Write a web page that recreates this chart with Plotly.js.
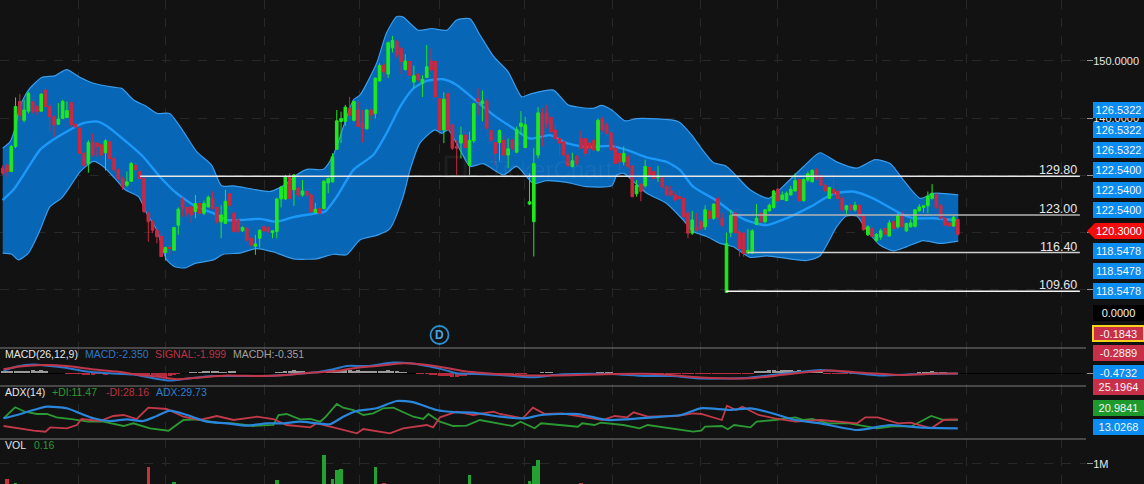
<!DOCTYPE html>
<html><head><meta charset="utf-8">
<script src="https://cdn.plot.ly/plotly-3.0.1.min.js"></script>
<style>html,body{margin:0;padding:0;background:#121212}#c{width:1144px;height:484px}</style>
</head><body><div id="c"></div>
<script>
const openPrices=[131.2,131.7,130.6,135.0,142.9,139.6,141.2,142.9,142.0,141.2,
144.9,142.0,140.2,138.9,139.9,140.1,142.7,138.9,138.2,133.8,
132.0,135.8,135.6,135.3,133.9,135.8,132.9,130.9,129.4,128.2,
128.9,131.7,130.6,129.4,123.3,121.8,120.3,119.2,116.4,117.3,
116.8,121.2,125.6,124.3,124.4,123.6,125.0,123.3,124.4,125.9,
124.3,121.8,121.5,126.7,123.3,122.1,120.2,120.6,118.9,117.5,
118.9,120.9,120.8,119.9,120.1,125.8,125.8,129.7,127.4,127.7,
126.5,127.1,126.5,123.4,124.1,124.1,128.6,128.8,134.5,139.4,
139.4,141.7,139.6,141.4,139.1,138.1,141.4,140.8,146.5,149.3,
147.7,152.3,153.4,152.2,148.5,149.9,146.3,147.7,146.1,147.1,
150.0,149.9,143.4,137.9,144.3,138.8,135.0,135.6,137.0,131.7,
136.0,143.4,142.5,142.9,137.8,135.7,135.7,136.1,133.5,136.1,
134.0,138.5,134.8,124.9,121.8,133.5,140.9,140.9,140.1,137.9,
136.4,135.8,133.5,131.5,133.3,136.4,136.4,135.6,136.1,134.3,
139.8,138.8,137.4,134.7,133.8,132.3,133.2,131.6,126.7,128.4,
128.1,131.3,130.6,129.6,129.5,127.9,127.2,126.5,126.2,125.9,
123.3,119.8,120.9,121.8,120.9,123.7,122.4,125.9,122.4,109.4,
119.9,123.3,120.0,119.8,116.3,116.3,121.3,123.3,121.8,123.7,
124.3,127.5,125.7,125.5,126.5,127.2,129.2,125.5,129.1,128.8,
130.9,129.7,128.2,125.9,127.5,127.1,125.9,123.9,124.7,123.9,
124.7,122.8,119.5,120.6,118.5,119.1,120.6,119.3,121.8,120.9,
122.8,120.2,120.9,121.0,123.7,124.3,124.6,125.9,126.5,124.7,
122.4,121.6,121.05,122.2];
const highPrices=[131.7,132.0,135.3,143.6,144.2,143.2,144.6,142.9,142.3,144.3,
145.4,142.6,140.5,142.6,143.2,142.9,142.9,139.1,138.4,134.1,
136.1,137.3,135.8,135.6,136.3,136.1,133.2,131.2,129.7,130.6,
132.3,132.3,130.9,129.7,123.6,122.1,120.6,119.8,117.4,117.4,
120.9,124.3,126.1,124.4,124.6,126.5,125.3,125.5,126.4,127.1,
124.4,124.7,127.4,126.9,123.6,122.4,121.0,120.9,119.1,119.5,
120.5,121.2,121.0,120.3,126.0,128.1,130.0,130.3,130.2,127.9,
129.1,127.2,126.7,125.1,124.4,129.1,129.6,133.8,141.4,141.1,
142.3,143.7,143.0,142.9,141.4,141.5,141.7,147.1,149.6,149.6,
153.4,154.4,153.7,152.5,151.2,150.2,149.2,147.8,147.5,152.8,
152.2,150.2,143.6,144.5,144.4,138.9,136.1,138.5,137.6,137.6,
142.7,145.2,144.8,143.3,137.9,135.8,138.0,137.0,136.4,136.3,
138.5,141.2,140.2,130.3,134.7,141.9,141.7,142.3,140.2,138.8,
136.6,136.1,133.8,133.9,133.5,137.8,136.6,135.8,136.3,139.9,
140.2,139.1,137.6,135.6,133.9,135.0,133.7,131.7,129.1,128.5,
132.7,131.6,130.8,131.6,129.7,128.2,128.1,127.1,127.4,126.1,
123.6,123.7,123.3,122.1,124.7,123.9,125.0,126.2,123.3,119.9,
123.9,123.6,120.35,120.1,120.5,120.5,124.9,123.4,124.0,125.0,
127.4,127.7,127.1,127.1,128.1,130.3,129.4,129.4,130.6,131.0,
131.2,130.0,128.5,128.0,130.6,127.4,126.2,124.7,124.9,125.3,
124.9,123.0,121.2,120.8,119.8,120.6,120.8,122.1,122.0,123.3,
123.6,121.6,122.2,124.0,124.9,124.7,127.1,128.4,126.8,124.9,
122.6,121.8,122.8,122.4];
const lowPrices=[130.0,129.7,130.6,134.7,139.4,139.2,140.8,140.8,140.5,141.1,
141.7,137.6,136.7,138.8,139.8,140.1,138.5,138.2,133.8,131.5,
130.4,133.2,133.2,133.2,130.8,132.6,130.6,129.1,127.4,127.9,
128.8,130.6,129.1,123.3,118.3,119.8,118.0,115.6,115.0,116.0,
116.7,119.5,122.7,122.7,121.6,122.4,123.0,123.0,124.3,124.0,
121.4,118.9,121.4,124.4,119.9,119.9,120.0,118.3,117.4,116.0,
117.3,120.0,119.8,118.9,118.9,124.3,125.6,125.6,124.6,126.2,
126.2,126.2,123.3,123.3,123.2,124.0,126.8,128.7,134.4,135.6,
138.6,139.6,139.4,138.4,135.7,138.0,139.6,139.9,146.4,147.1,
147.0,151.5,150.5,147.7,148.3,147.5,145.2,146.4,143.7,147.0,
148.1,143.6,137.8,135.6,137.8,134.4,130.0,132.9,134.7,130.0,
135.6,140.5,139.4,138.0,135.8,131.7,132.5,133.2,131.2,134.4,
133.8,137.0,134.7,124.7,115.7,132.9,135.0,138.2,137.4,136.1,
133.2,133.2,131.5,131.3,131.7,134.5,133.2,133.5,134.3,134.1,
137.6,137.2,134.3,131.9,130.3,131.7,131.2,126.1,126.2,125.4,
127.8,129.7,129.1,128.8,127.7,126.3,126.2,125.3,125.6,122.4,
118.9,119.5,120.1,120.3,120.35,122.2,122.1,122.1,120.9,109.4,
119.1,119.7,115.7,115.7,116.1,116.1,121.2,121.6,121.5,123.6,
124.1,125.3,125.6,125.4,126.4,127.1,125.3,125.3,128.8,128.7,
129.1,128.1,127.1,125.8,126.5,125.7,123.6,123.2,123.7,123.6,
122.7,120.2,119.3,119.1,118.3,118.6,119.5,119.2,120.5,120.6,
120.8,120.0,120.8,120.8,123.6,123.4,123.3,125.7,124.1,122.2,
121.05,120.9,120.9,119.3];
const closePrices=[130.3,130.6,135.0,142.0,140.5,141.4,144.3,141.1,141.1,144.2,
142.0,140.2,138.8,139.8,142.9,141.3,138.8,138.4,133.8,131.7,
135.7,133.5,135.0,133.5,136.0,132.9,130.9,129.4,127.9,128.8,
132.0,130.9,129.4,123.6,121.8,120.3,119.2,115.7,117.3,117.1,
120.8,124.0,124.1,123.3,123.0,125.0,123.3,125.0,126.1,124.1,
121.8,123.0,125.4,124.7,120.1,120.1,120.8,118.6,117.7,117.9,
120.3,120.2,120.1,120.2,125.8,127.9,129.7,125.9,130.0,126.5,
127.2,126.5,123.6,124.0,123.3,128.9,129.4,133.2,139.5,139.9,
141.9,140.5,142.9,138.5,138.2,141.4,140.5,147.0,149.2,148.1,
153.2,153.6,151.0,149.9,150.0,147.5,147.4,146.7,146.8,149.0,
148.4,143.7,137.9,143.3,137.9,134.7,134.7,137.0,134.8,136.1,
142.5,142.9,143.0,138.2,136.1,133.8,137.8,133.5,134.6,134.7,
138.0,139.1,138.8,125.3,132.0,140.9,137.0,139.0,137.6,136.4,
135.6,133.5,131.6,132.5,132.0,134.7,133.8,134.7,134.4,139.6,
137.9,137.3,134.4,132.0,132.3,133.8,131.5,126.2,128.2,127.1,
131.5,130.0,129.4,129.8,127.9,126.5,126.5,125.6,125.9,122.7,
119.8,122.1,120.3,120.6,123.9,122.4,124.9,122.6,121.2,118.0,
122.9,119.9,117.1,116.2,116.8,120.2,122.4,121.8,123.9,124.7,
127.2,125.5,126.5,126.8,127.5,129.0,125.5,129.2,130.2,130.8,
129.4,128.2,127.2,127.8,126.8,125.9,123.9,124.6,123.9,124.7,
122.8,120.4,120.9,119.2,119.6,120.2,119.6,121.6,120.6,122.8,
120.9,121.5,121.6,123.9,124.4,124.6,126.3,126.8,124.3,122.4,
121.2,121.05,122.6,119.6];
const barIndex=openPrices.map((_,i)=>i);

const upperX=[0,1.7,2.9,4,6,9.1,12.2,14.9,18.1,21.2,25.8,27.8,30.5,33.6,36,39,42.2,45.3,48.8,51.1,53.9,58.5,62.4,65.5,68.6,71,74.9,77.2,81.9,83.4,87.3,89.6,92,93.5,97,100.2,103.7,106,109.1,111.4,114.6,118,121.2,123.1,128.6,132,137.9,139.8,142.2,145.3,148,157.7,161.2,162.8,165.9,169,174.5,178.8,182.2,187,190.8,194.7,199.4,203.7,207.2,210.3,214.2,217.3,223.1];
const upperBand=[134.7,135.8,138.2,142.0,144.9,147.1,147.4,148.5,147.1,146.1,145.4,145.2,143.2,142.0,140.8,140.8,137.6,134.1,131.7,128.1,128.1,127.5,127.1,128.1,130.0,131.0,131.0,133.5,143.2,144.0,149.6,154.9,157.8,157.7,155.4,155.7,155.4,157.2,157.4,154.6,150.8,148.1,143.7,144.2,144.9,142.3,141.7,142.2,141.4,139.5,139.9,139.4,136.7,135.0,132.2,131.5,127.4,125.9,128.0,131.5,133.9,132.3,131.2,132.7,132.0,129.1,125.9,126.8,126.5];
const lowerX=[0,2.1,3.7,6,8.7,11,13.8,15.7,18.1,21.2,23.5,26.2,28.6,31.7,33.6,36,38.3,40.2,42.6,44.9,49.2,51.5,55.4,59.3,63.2,67.9,73.3,77.2,80.3,83.4,87.7,90.4,93.5,95.1,97.4,100.9,102.5,104,106.8,109.1,112.2,116.9,120,123.9,127,131.7,136.3,142.2,143.4,145,146.5,150.4,155,158.9,161.2,164.4,167.5,170.6,174.5,178.4,187.7,190.8,194.7,197,199.4,201.7,204.8,207.9,211,214.9,218.8,223.1];
const lowerBand=[116.3,116.1,115.1,116.3,120.3,124.4,126.0,127.95,130.6,132.4,131.5,129.4,127.4,126.2,123.3,120.3,115.1,113.9,113.7,114.5,115.1,116.1,116.3,117.1,116.5,115.3,115.3,116.1,116.0,118.6,119.5,120.6,126.2,130.9,135.6,137.9,137.3,137.9,134.4,131.5,132.0,130.0,131.5,128.5,129.0,128.7,127.95,128.1,130.0,130.3,129.4,126.8,125.0,122.1,120.1,119.2,118.0,117.4,115.55,115.8,115.0,115.8,120.9,122.8,122.8,120.35,117.7,116.7,117.4,118.5,118.0,118.4];
const middleX=[0,2.5,5.6,8.7,11,14.9,18.8,21.9,24.3,28.9,32.8,36.7,40.6,45.3,49.2,52.3,55.4,60.1,64,67.9,72.5,75.3,78,81.9,86.5,89.6,92.8,95.9,99,102.9,106,109.9,114.6,119.2,123.1,127.8,131.7,136.3,141.8,145.7,150.4,155,158.1,161.2,166.7,170.6,174.5,178.4,183,188.5,193.9,198.6,203.2,209.5,212.6,217.3,223.1];
const middleBand=[125.6,127.4,130.9,134.4,135.8,137.6,139.1,139.4,138.6,135.8,133.2,129.7,126.8,124.4,123.3,122.1,122.1,122.3,121.8,122.6,123.2,123.6,126.2,130.9,133.5,137.3,142.0,145.2,146.5,146.8,145.8,143.4,140.5,138.2,136.4,137.0,135.6,134.9,135.1,134.4,133.1,132.3,130.9,127.95,125.5,123.3,121.8,121.2,122.4,124.4,126.7,127.1,125.9,123.3,122.4,122.4,122.0];

const levelValues=[129.8,123.0,116.4,109.6];
const levelLabels=['129.80','123.00','116.40','109.60'];
const levelStarts=[32.1,170.2,174,168.9];
const levelEnd=251.5;

const macdX=[0.2,3.3,7.2,11,15,19.6,25,30.5,34.4,39,43.7,49.2,55.4,61.6,67.9,73.3,77.2,80.3,85,91.2,95.1,99.8,103.7,106,110.7,116.1,123.8,130.5,142,149.7,156.4,163.1,173.6,179.4,185.1,190.9,197.6,205.3,212,223];
const macdLine=[2.7,6.7,8.7,7.3,5.3,1.7,0,-1.3,-4.3,-7.3,-5,-2.7,-2.7,-2.7,-1,1,4,7.3,7.3,10.7,10,6.7,2.7,0,-0.7,-1.7,-4,-1,-0.7,-2.7,-2.7,-5.3,-4.7,-1.7,0.7,3.3,1,-2.3,-1,-0.3];
const signalX=[0.2,4,9.5,15,20.4,26.6,32,36,40.6,46,52.3,60,66.3,72.5,77.2,81.9,87.3,93.5,98.2,103.7,108.3,113,116.1,125.7,143,152.5,163.1,174.6,183.2,192.8,202.4,210,217.8,223];
const signalLine=[4,6.7,8.3,7.3,4.3,1.7,-1.7,-3.3,-6,-4.3,-2.3,-2.7,-1.7,0.7,2,5,7.3,10,8.7,5.3,1.7,0,-1,-2.3,-0.7,-0.7,-4.3,-5,-1,2.7,0,-1.7,-0.3,-0.3];
const macdHist=[2,2.6,2.6,2,2.6,2.6,2.6,3.2,2.6,3.2,2.6,
0,0,0,0,
-0.5,-1,-1,-1,-1.5,-1.5,-1.5,-1,-1,-1.5,-1,-1,-1,-1,-1,-1,-1,-1.5,-1.5,-2,-2,-2.5,-3,-3.5,-3,-2,-1,
0,0,
1.2,1.5,1.8,2,2.4,2.7,2.2,1.8,1.5,2,2.4,
0,0,0,0,0,0,0,0,0,
1.5,1.8,2.4,2.7,3,2.2,2.2,1.8,1.5,1.2,0.8,
0,
2.2,3,3.4,3.7,3.4,3,2.7,3,2.4,2.2,2.2,2,2,2.4,3,2.4,2,1.5,1.2,
0,0,
-0.8,-1,-1,-1.5,-2,-2.5,-2.5,-3,-3.5,-3.5,-3,-2.5,-2,-1.5,
-1,-1,-0.8,-0.8,-0.5,-0.5,
-0.5,-0.5,-0.5,-0.5,-0.5,-0.3,0,0,0,
1.5,1.5,1.5,
0,0,0,0,0,0,0,0,0,0,
1.5,1.5,1.5,1.5,
0,0,0,0,0,0,0,0,0,
-1,-1,-1,-1,-1,-1,-1,-1,-1,-1,-1,-1,
-0.3,-0.3,-0.3,-0.3,-0.3,-0.3,-0.3,-0.3,-0.3,-0.3,-0.3,-0.3,
2.2,2.2,2.7,3,3,2.7,3,3,3,2.7,3,2.2,2.2,3,3,2.2,
-0.5,-0.5,-0.5,-0.5,
-1,-1,-1,-1,-1,-1,-1,-1,
0,0,0,0,0,0,0,0,0,0,
1.2,1.5,1.5,2.2,1.5,1.5,1.2,0.8,0.8,
0];

const adxX=[0.2,3.3,7.2,10.3,15,18,21.2,25,29,32.8,36,39,43,47.6,52.3,57,61.6,65.5,69.4,73.3,76.4,79.5,82.7,87.3,92,96,101.3,106,109.9,116.1,121.9,125.7,134.3,141,145.8,151.6,158.3,163,169.8,174.6,178.4,185.1,190.9,199.5,207.2,214.9,223];
const adxLine=[22.7,26,31,34.3,32.7,27.7,22.7,20,21.7,20,25,30.3,26,19.3,17.7,15.3,17.7,17.7,19.3,17.7,16.7,24.3,30,32.7,40,38.7,31,28.7,28.3,24.3,22.7,26,27,21,21.7,23.7,26,32.7,31,32.7,29.3,21,17.7,11,16,13.3,12.7];
const plusDiX=[0.2,2.9,5.2,8,10.3,12.6,16.5,20,23.5,28.2,30.5,34.4,38.7,42.2,45.3,50,53.9,58.5,63.2,64.4,66.3,69.4,71.8,74.1,75.3,78,79.5,81.9,84.2,86.5,88.9,91.2,95.9,98.2,99.4,102.1,105.2,108.3,111.4,116.1,119,120.9,124.2,125.7,134.3,135.3,138.2,139.6,144.9,148.7,150.6,161.2,163.1,164,167.9,169.3,170.8,174.6,176,180.3,185.1,187,189,192.8,197.6,204.3,208.1,212,214.9,216.8,219.2,223];
const plusDi=[22.7,33.7,29.3,27,27,23.7,21.7,19.3,19.3,15,17.7,12.7,10.3,21,21.7,18.3,17.7,15,16,26,27,21.7,22,19.3,23.7,37,33.3,31,26,27.7,32.7,33.3,24.3,22,27,19.3,15,15.3,21,17,15,19.3,12.7,17.7,14.3,17.7,16,18.3,16,12.7,16,9.3,10.3,14.3,15,11.7,16,13.7,19.3,21,23.7,21,22,17.7,17.7,12.7,15,14.3,21,25,21.7,21];
const minusDiX=[0.2,3.3,7.2,10,11.1,15,17.3,18.4,22.7,25.8,28.2,31.3,34,38.3,42.2,46,50,53.9,59.3,63.2,66.3,71.8,73.3,77.2,82.7,84.2,90.4,93.5,99,100.5,102.1,106,109.9,114.6,116.1,121.4,123.8,126.6,130.5,134.3,140.1,142.9,145.8,147.3,150.6,157.3,161.2,163.1,167.9,169.1,171.2,172.7,176.5,180.3,185.1,190.9,199.5,201.4,204.3,209.1,212,216.8,219.7,223];
const minusDi=[15,12.7,10.3,9.3,13.7,12.7,16,22,20,25,26,22,33.3,32,24.3,21,25,21,24.3,22,16,13.7,17.7,13.7,7.7,12,7.7,12.7,16,13.7,23.7,29.3,26,29.3,27,22.7,33.3,27,27.7,25,21,25,23.7,28.7,24.3,25,27.7,27,21,35.3,31,34.3,26,22.7,19.3,21,17.7,23.7,23.7,17.7,18.3,12.7,21,21.7];

const volX=[1,3,34,40,64,75,77,78,79,87,89,109,123,124,125,135];
const volumes=[580000,480000,925000,510000,560000,1250000,575000,830000,850000,910000,480000,690000,540000,940000,1110000,480000];
const volUp=[false,true,false,true,true,true,true,true,true,true,false,true,true,true,true,false];

const priceTagTexts=['126.5322','126.5322','126.5322','122.5400','122.5400','122.5400','118.5478','118.5478','118.5478'];
const otherTagTexts=['0.0000','-0.1843','-0.2889','-0.4732','25.1964','20.9841','13.0268'];
const legendMacd=['MACD(26,12,9)','MACD:-2.350','SIGNAL:-1.999','MACDH:-0.351'];
const legendAdx=['ADX(14)','+DI:11.47','-DI:28.16','ADX:29.73'];
const legendVol=['VOL','0.16'];
const lastPriceText='120.3000';
const priceTicks=[150,140,130,120,110];
const priceTickText=['150.0000','140.0000','','',''];

// ---------- layout helpers ----------
const W=1144,H=484,FONT='"Liberation Sans", Arial, sans-serif';
const px=x=>x/W, py=y=>1-y/H;
const BG='#121212',GRID='#282828';
const GREEN='#1fe81f',RED='#cc2840',TAGB='#0a8cf0',TAGR='#c8304a',TAGG='#1e9a2c';
const xRange=[-0.63,252.93];
const gridIdx=[17.8,37.9,61.2,83.2,101.9,121.9,142.3,163,181,204.1,225.1,247.3];
const dom=(t,b)=>[1-b/H,1-t/H];

function label(text,x,y,color,size){return {xref:'paper',yref:'paper',x:px(x-2),y:py(y),xanchor:'left',yanchor:'middle',text,showarrow:false,font:{family:FONT,size:size||10.5,color}};}
function tag(text,y,bg,opt){opt=opt||{};return {xref:'paper',yref:'paper',x:px(1118),y:py(y),xanchor:'center',yanchor:'middle',text,showarrow:false,
  bgcolor:bg,bordercolor:opt.border||bg,borderwidth:opt.border?2:0,borderpad:0,width:opt.border?49:51,height:opt.border?13:16,align:'center',valign:'middle',
  font:{family:FONT,size:11,color:opt.color||'#f4f4f4'}};}

const traces=[
 {type:'scatter',mode:'lines',x:upperX,y:upperBand,xaxis:'x',yaxis:'y',line:{color:'#3a9cec',width:1.2,shape:'spline',smoothing:0.6}},
 {type:'scatter',mode:'lines',x:lowerX,y:lowerBand,xaxis:'x',yaxis:'y',fill:'tonexty',fillcolor:'rgba(7,106,188,0.96)',line:{color:'#3a9cec',width:1.2,shape:'spline',smoothing:0.6}},
 {type:'scatter',mode:'lines',x:middleX,y:middleBand,xaxis:'x',yaxis:'y',line:{color:'#1c98f8',width:2.4,shape:'spline',smoothing:0.6}},
 {type:'candlestick',x:barIndex,open:openPrices,high:highPrices,low:lowPrices,close:closePrices,xaxis:'x',yaxis:'y5',whiskerwidth:0,
  increasing:{line:{color:GREEN,width:1},fillcolor:GREEN},decreasing:{line:{color:RED,width:1},fillcolor:RED}},
 {type:'bar',x:barIndex,y:macdHist,xaxis:'x',yaxis:'y2',width:0.95,marker:{color:macdHist.map(v=>v>=0?'#9a9a9a':'#b52a3c'),line:{width:0}}},
 {type:'scatter',mode:'lines',x:macdX,y:macdLine,xaxis:'x',yaxis:'y2',line:{color:'#2b78cc',width:2,shape:'spline',smoothing:0.6}},
 {type:'scatter',mode:'lines',x:signalX,y:signalLine,xaxis:'x',yaxis:'y2',line:{color:'#c0364a',width:2,shape:'spline',smoothing:0.6}},
 {type:'scatter',mode:'lines',x:plusDiX,y:plusDi,xaxis:'x',yaxis:'y3',line:{color:'#2c9a34',width:1.8}},
 {type:'scatter',mode:'lines',x:minusDiX,y:minusDi,xaxis:'x',yaxis:'y3',line:{color:'#c23a4a',width:1.8}},
 {type:'scatter',mode:'lines',x:adxX,y:adxLine,xaxis:'x',yaxis:'y3',line:{color:'#2a86dc',width:2.2,shape:'spline',smoothing:0.6}},
 {type:'bar',x:volX,y:volumes,xaxis:'x',yaxis:'y4',width:0.85,marker:{color:volUp.map(u=>u?'#25a032':'#c8323f'),line:{width:0}}}
];
levelValues.forEach((v,i)=>traces.push({type:'scatter',mode:'lines',x:[levelStarts[i],levelEnd],y:[v,v],xaxis:'x',yaxis:'y5',
  line:{color:['#e8e8e8','#b5b5b5','#d0d0d0','#f4f4f4'][i],width:1.5}}));

const tagY=[110,130,150,170,190,210,251,271,291];
const otherY=[313,333,353,373,387,408,427];
const anns=[];
anns.push({xref:'x',yref:'y',x:128,y:131,text:'TickerChart',showarrow:false,font:{family:FONT,size:24,color:'rgba(255,255,255,0.06)'}});
priceTagTexts.forEach((t,i)=>anns.push(tag(t,tagY[i],TAGB)));
anns.push(tag(otherTagTexts[0],otherY[0],'#000000'));
anns.push(tag(otherTagTexts[1],otherY[1],TAGR,{border:'#f5d31c'}));
anns.push(tag(otherTagTexts[2],otherY[2],TAGR));
anns.push(tag(otherTagTexts[3],otherY[3],TAGB));
anns.push(tag(otherTagTexts[4],otherY[4],TAGR));
anns.push(tag(otherTagTexts[5],otherY[5],TAGG));
anns.push(tag(otherTagTexts[6],otherY[6],TAGB));
anns.push({xref:'paper',yref:'paper',x:px(1119),y:py(231),xanchor:'center',yanchor:'middle',text:lastPriceText,showarrow:false,font:{family:FONT,size:11,color:'#fff'}});
levelValues.forEach((v,i)=>anns.push({xref:'x',yref:'y',x:levelEnd-0.2,y:v,yshift:-3,xanchor:'right',yanchor:'bottom',text:levelLabels[i],showarrow:false,font:{family:FONT,size:12.5,color:'#e6e6e6'}}));
[[legendMacd,354,[5,85,155,233],['#e6e6e6','#2b78cc','#b93244','#a0a0a0']],
 [legendAdx,392,[5,52,106,156],['#e6e6e6','#2c9a34','#b93244','#2a80d0']],
 [legendVol,445,[5,34],['#e6e6e6','#2c9a34']]].forEach(([ts,y,xs,cs])=>ts.forEach((t,i)=>anns.push(label(t,xs[i],y,cs[i]))));
anns.push({xref:'paper',yref:'paper',x:px(439.5),y:py(335),xanchor:'center',yanchor:'middle',text:'<b>D</b>',showarrow:false,font:{family:FONT,size:12,color:'#4aa3e4'}});

const sep=y=>({type:'line',xref:'paper',yref:'paper',x0:0,x1:px(1086),y0:py(y),y1:py(y),line:{color:'#7c7c7c',width:1},layer:'above'});
const P=(x,y)=>px(x).toFixed(5)+' '+py(y).toFixed(5);
const shapes=[sep(348),sep(386),sep(439),
 {type:'circle',xref:'paper',yref:'paper',x0:px(430.5),x1:px(448.5),y0:py(344),y1:py(326),line:{color:'#2a8fd0',width:1.8},layer:'above'},
 {type:'rect',xref:'paper',yref:'paper',x0:px(446),x1:px(465),y0:py(177),y1:py(157),line:{color:'rgba(255,255,255,0.05)',width:3},layer:'above'},
 {type:'path',xref:'paper',yref:'paper',path:`M ${P(1087,231)} L ${P(1095,223)} L ${P(1144,223)} L ${P(1144,239)} L ${P(1095,239)} Z`,fillcolor:'#f20c0c',line:{width:0},layer:'above'}];

const yBase={showgrid:false,zeroline:false,showticklabels:false,ticks:'',showline:false,fixedrange:true};
const layout={width:W,height:H,autosize:false,paper_bgcolor:BG,plot_bgcolor:BG,showlegend:false,hovermode:false,dragmode:false,
 margin:{l:0,r:0,t:0,b:0,pad:0},bargap:0,barmode:'overlay',boxgap:0.12,
 font:{family:FONT,size:11,color:'#e6e6e6'},
 xaxis:{domain:[0,1086/W],range:xRange,rangeslider:{visible:false},tickmode:'array',tickvals:gridIdx,showticklabels:false,ticks:'',showgrid:true,gridcolor:GRID,griddash:'dash',gridwidth:1,zeroline:false,showline:false,anchor:'y4',fixedrange:true},
 yaxis:{...yBase,domain:dom(0,348),range:[99.65,160.7],side:'right',anchor:'x',showgrid:true,gridcolor:GRID,griddash:'dash',tickmode:'array',tickvals:priceTicks,ticktext:priceTickText,showticklabels:true,ticks:'outside',ticklen:6,tickcolor:'#9a9a9a',ticklabelstandoff:-2,tickfont:{family:FONT,size:11,color:'#e6e6e6'}},
 yaxis5:{...yBase,domain:dom(0,348),range:[99.65,160.7],overlaying:'y',side:'right',anchor:'x'},
 yaxis2:{...yBase,domain:dom(348,386),range:[-12.7,25.3],side:'right',anchor:'x',tickmode:'array',tickvals:[0],ticks:'outside',ticklen:6,tickcolor:'#9a9a9a',zeroline:true,zerolinecolor:'#000',zerolinewidth:1},
 yaxis3:{...yBase,domain:dom(386,439),range:[2,55],side:'right',anchor:'x'},
 yaxis4:{...yBase,domain:dom(439,484),range:[444000,1694000],side:'right',anchor:'x',showgrid:true,gridcolor:GRID,griddash:'dash',tickmode:'array',tickvals:[1000000],ticktext:['1M'],showticklabels:true,ticks:'outside',ticklen:6,tickcolor:'#9a9a9a',ticklabelstandoff:-2,tickfont:{family:FONT,size:11,color:'#e6e6e6'}},
 annotations:anns,shapes
};
Plotly.newPlot('c',traces,layout,{displayModeBar:false,staticPlot:true,responsive:false});
</script></body></html>
